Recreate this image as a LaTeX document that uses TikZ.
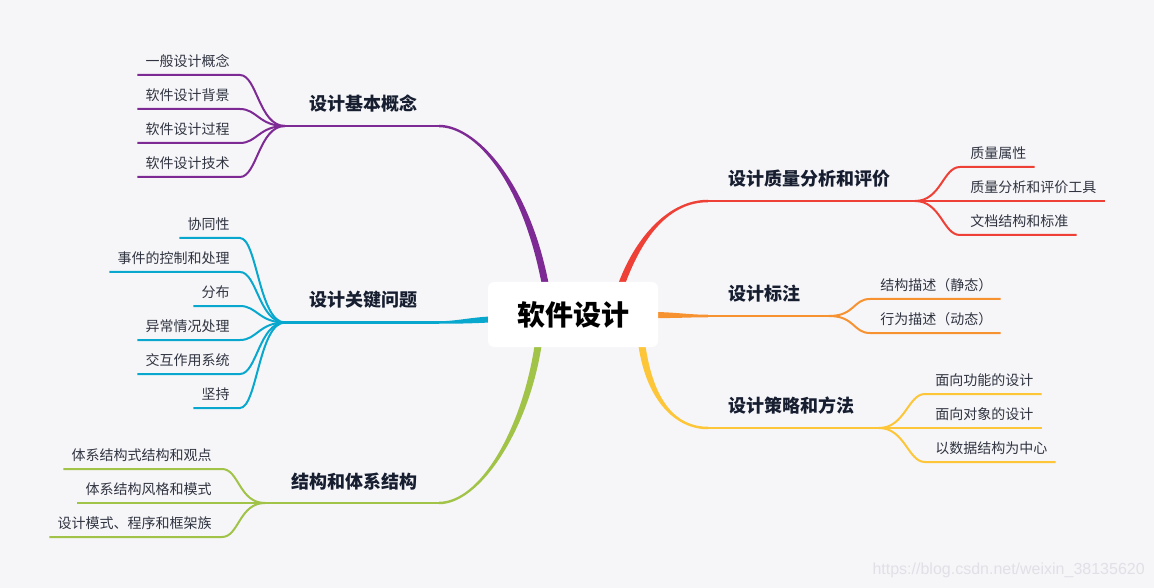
\documentclass[tikz,border=0pt]{standalone}
\usepackage{fontspec}
\setmainfont{Noto Sans CJK SC}
\newfontfamily\wmfont{Liberation Sans}
\usetikzlibrary{calc}
\definecolor{bgc}{RGB}{246,246,249}
\definecolor{cpur}{RGB}{125,42,148}
\definecolor{ccya}{RGB}{8,168,206}
\definecolor{cgrn}{RGB}{161,195,72}
\definecolor{cred}{RGB}{238,64,54}
\definecolor{corg}{RGB}{247,146,48}
\definecolor{cyel}{RGB}{252,198,56}
\definecolor{tmain}{RGB}{22,30,48}
\definecolor{tleaf}{RGB}{48,52,64}
\definecolor{wm}{RGB}{224,224,230}
\newcommand\mmTaper[7]{\fill[#1] ($(#2)+(#6)$) .. controls ($(#3)+(#6)$) and ($(#4)+(#7)$) .. ($(#5)+(#7)$) -- ($(#5)-(#7)$) .. controls ($(#4)-(#7)$) and ($(#3)-(#6)$) .. ($(#2)-(#6)$) -- cycle;}
\begin{document}
\begin{tikzpicture}[x=0.75pt,y=-0.75pt,
  leaf/.style={font=\fontsize{10.5pt}{12pt}\selectfont, text=tleaf, inner sep=0pt},
  mainlbl/.style={font=\fontsize{13.5pt}{16pt}\selectfont\bfseries, text=tmain, inner sep=0pt},
  sub/.style={line width=1.5pt},
  mline/.style={line width=1.9pt}]
\fill[bgc] (0,0) rectangle (1154,588);
\useasboundingbox (0,0) rectangle (1154,588);

% ---- main branch anchors
\coordinate (pS) at (545,283); \coordinate (pE) at (439,126); \coordinate (hp) at (285,126);
\coordinate (cS) at (490,319.5); \coordinate (cE) at (439,322.5); \coordinate (hc) at (285,322.5);
\coordinate (gS) at (538,346); \coordinate (gE) at (439,503); \coordinate (hg) at (265,503);
\coordinate (rS) at (622,283); \coordinate (rE) at (708,201); \coordinate (hr) at (915,201);
\coordinate (oS) at (656,315); \coordinate (oE) at (708,316); \coordinate (ho) at (829,316);
\coordinate (yS) at (642,346); \coordinate (yE) at (708,428); \coordinate (hy) at (879,428);

\mmTaper{cpur}{pS}{525,180}{475,126}{pE}{3.5,0}{0,-1.25}
\mmTaper{ccya}{cS}{470,320.5}{455,322.5}{cE}{0,3}{0,1.25}
\mmTaper{cgrn}{gS}{525,430}{480,503}{gE}{3.5,0}{0,1.25}
\mmTaper{cred}{rS}{640,235}{670,201}{rE}{-3.5,0}{0,-1.25}
\mmTaper{corg}{oS}{675,315.3}{690,316}{oE}{0,3}{0,1.25}
\mmTaper{cyel}{yS}{650,400}{675,428}{yE}{-3.5,0}{0,1.25}

\draw[mline,cpur] (pE) -- (hp);
\draw[mline,ccya] (cE) -- (hc);
\draw[mline,cgrn] (gE) -- (hg);
\draw[mline,cred] (rE) -- (hr);
\draw[mline,corg] (oE) -- (ho);
\draw[mline,cyel] (yE) -- (hy);

% ---- main labels
\node[mainlbl, anchor=base east] (mp) at (418,110.3) {设计基本概念};
\node[mainlbl, anchor=base east] (mc) at (418,306.8) {设计关键问题};
\node[mainlbl, anchor=base east] (mg) at (418,488) {结构和体系结构};
\node[mainlbl, anchor=base west] (mr) at (728,185.3) {设计质量分析和评价};
\node[mainlbl, anchor=base west] (mo) at (728,300.3) {设计标注};
\node[mainlbl, anchor=base west] (my) at (728,412.3) {设计策略和方法};

% ---- leaves, left side
\foreach \lbl/\yy [count=\i] in {一般设计概念/75, 软件设计背景/109, 软件设计过程/143, 软件设计技术/177} {
  \node[leaf, anchor=base east] (pl\i) at (230,\yy-8.7) {\lbl};
  \coordinate (pn\i) at (240,\yy);
  \draw[sub,cpur] (hp) .. controls +(-26,0) and +(17,0) .. (pn\i) -- (pn\i -| pl\i.west) -- ++(-8,0);
}
\foreach \lbl/\yy [count=\i] in {协同性/238, 事件的控制和处理/272, 分布/306, 异常情况处理/340, 交互作用系统/374, 坚持/408} {
  \node[leaf, anchor=base east] (cl\i) at (230,\yy-8.7) {\lbl};
  \coordinate (cn\i) at (240,\yy);
  \draw[sub,ccya] (hc) .. controls +(-26,0) and +(17,0) .. (cn\i) -- (cn\i -| cl\i.west) -- ++(-8,0);
}
\foreach \lbl/\yy [count=\i] in {体系结构式结构和观点/469, 体系结构风格和模式/503, 设计模式、程序和框架族/537} {
  \node[leaf, anchor=base east] (gl\i) at (212,\yy-8.7) {\lbl};
  \coordinate (gn\i) at (222,\yy);
  \draw[sub,cgrn] (hg) .. controls +(-26,0) and +(17,0) .. (gn\i) -- (gn\i -| gl\i.west) -- ++(-8,0);
}
% ---- leaves, right side
\foreach \lbl/\yy [count=\i] in {质量属性/167, 质量分析和评价工具/201, 文档结构和标准/235} {
  \node[leaf, anchor=base west] (rl\i) at (970,\yy-8.7) {\lbl};
  \coordinate (rn\i) at (960,\yy);
  \draw[sub,cred] (hr) .. controls +(26,0) and +(-17,0) .. (rn\i) -- (rn\i -| rl\i.east) -- ++(8,0);
}
\foreach \lbl/\yy [count=\i] in {结构描述（静态）/299, 行为描述（动态）/333} {
  \node[leaf, anchor=base west] (ol\i) at (880,\yy-8.7) {\lbl};
  \coordinate (on\i) at (870,\yy);
  \draw[sub,corg] (ho) .. controls +(26,0) and +(-17,0) .. (on\i) -- (on\i -| ol\i.east) -- ++(8,0);
}
\foreach \lbl/\yy [count=\i] in {面向功能的设计/394, 面向对象的设计/428, 以数据结构为中心/462} {
  \node[leaf, anchor=base west] (yl\i) at (935,\yy-8.7) {\lbl};
  \coordinate (yn\i) at (925,\yy);
  \draw[sub,cyel] (hy) .. controls +(26,0) and +(-17,0) .. (yn\i) -- (yn\i -| yl\i.east) -- ++(8,0);
}

% ---- central topic
\node[fill=white, rounded corners=4.5pt, minimum width=127.5pt, minimum height=48.75pt, inner sep=0pt,
      font=\fontsize{21pt}{24pt}\selectfont\bfseries, text=black] (root) at (573,314.5) {软件设计};

% ---- watermark
\node[font=\wmfont\fontsize{12pt}{14pt}\selectfont, text=wm, anchor=base east, inner sep=0pt] (wmark) at (1145,574) {https://blog.csdn.net/weixin\_38135620};
\end{tikzpicture}
\end{document}
